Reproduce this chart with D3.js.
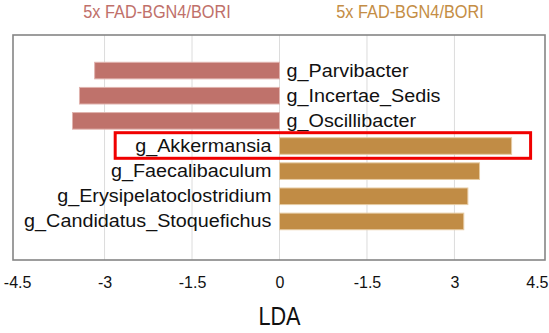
<!DOCTYPE html>
<html>
<head>
<meta charset="utf-8">
<script src="https://cdn.jsdelivr.net/npm/d3@7"></script>
<style>
  html, body { margin: 0; padding: 0; background: #fff; }
  svg { display: block; font-family: "Liberation Sans", Arial, sans-serif; }
</style>
</head>
<body>
<svg id="chart" width="549" height="333"></svg>
<script>
// ---- data ----
const categories = ["g_Parvibacter", "g_Incertae_Sedis", "g_Oscillibacter", "g_Akkermansia",
                    "g_Faecalibaculum", "g_Erysipelatoclostridium", "g_Candidatus_Stoquefichus"];
const ldaValues = [-3.17, -3.43, -3.55, 3.98, 3.43, 3.23, 3.16];
const groupTitles = ["5x FAD-BGN4/BORI", "5x FAD-BGN4/BORI"];
const tickValues = [-4.5, -3, -1.5, 0, 1.5, 3, 4.5];
const tickLabels = ["-4.5", "-3", "-1.5", "0", "-1.5", "3", "4.5"];
const highlighted = "g_Akkermansia";
const axisTitle = "LDA";

// ---- layout ----
const W = 549;
const svg = d3.select("#chart");
const frame = { left: 13, right: 545, top: 35, bottom: 260 };
const negColor = "#bf726b", posColor = "#c18c45";
const negStroke = "#e0b3ae", posStroke = "#e6cba3";

const x = d3.scaleLinear().domain([-4.57, 4.57]).range([frame.left, frame.right + 1]);
const y = d3.scaleBand().domain(categories).range([58, 234]).paddingInner(0.34).paddingOuter(0.17);

function stretch(sel, factor) {
  sel.each(function () {
    const len = this.getComputedTextLength();
    d3.select(this).attr("textLength", len * factor).attr("lengthAdjust", "spacingAndGlyphs");
  });
}

// gridlines
svg.append("g").selectAll("line")
  .data(tickValues.filter(v => Math.abs(v) < 4.5))
  .join("line")
  .attr("x1", d => x(d)).attr("x2", d => x(d))
  .attr("y1", frame.top).attr("y2", frame.bottom)
  .attr("stroke", "#dcdcdc").attr("stroke-width", 1);

// frame
svg.append("rect")
  .attr("x", frame.left).attr("y", frame.top)
  .attr("width", frame.right - frame.left).attr("height", frame.bottom - frame.top)
  .attr("fill", "none").attr("stroke", "#858585").attr("stroke-width", 1.6);

// bars
svg.append("g").selectAll("rect")
  .data(categories.map((c, i) => ({ c, v: ldaValues[i] })))
  .join("rect")
  .attr("x", d => Math.min(x(0), x(d.v)))
  .attr("y", d => y(d.c))
  .attr("width", d => Math.abs(x(d.v) - x(0)))
  .attr("height", y.bandwidth())
  .attr("fill", d => d.v < 0 ? negColor : posColor)
  .attr("stroke", d => d.v < 0 ? negStroke : posStroke)
  .attr("stroke-width", 1);

// bar labels
const labels = svg.append("g").selectAll("text")
  .data(categories.map((c, i) => ({ c, v: ldaValues[i] })))
  .join("text")
  .attr("x", d => d.v < 0 ? x(0) + 7 : x(0) - 8)
  .attr("y", d => y(d.c) + y.bandwidth() / 2 + 6)
  .attr("text-anchor", d => d.v < 0 ? "start" : "end")
  .attr("font-size", 17.5)
  .attr("fill", "#111")
  .text(d => d.c);
stretch(labels, 1.13);

// highlight box
const hiIdx = categories.indexOf(highlighted);
const hiNode = labels.nodes()[hiIdx];
const hiLeft = x(0) - 8 - hiNode.textLength.baseVal.value;
svg.append("rect")
  .attr("x", hiLeft - 20)
  .attr("y", y(highlighted) - 5)
  .attr("width", x(ldaValues[hiIdx]) + 19 - (hiLeft - 20))
  .attr("height", y.bandwidth() + 9)
  .attr("fill", "none").attr("stroke", "#f00000").attr("stroke-width", 3);

// group titles
const titles = svg.append("g").selectAll("text")
  .data(groupTitles)
  .join("text")
  .attr("x", (d, i) => i === 0 ? 157 : 410)
  .attr("y", 18)
  .attr("text-anchor", "middle")
  .attr("font-size", 18.5)
  .attr("fill", (d, i) => i === 0 ? "#c0706a" : "#c48d45")
  .text(d => d);
stretch(titles, 0.88);

// x axis
const axis = d3.axisBottom(x)
  .tickValues(tickValues)
  .tickFormat((d, i) => tickLabels[i])
  .tickSize(0).tickPadding(0);
const ax = svg.append("g").attr("transform", "translate(0,277)").call(axis);
ax.select(".domain").remove();
ax.selectAll("text")
  .attr("font-size", 16)
  .attr("font-family", "\"Liberation Sans\", Arial, sans-serif")
  .attr("fill", "#111");
stretch(ax.selectAll("text"), 1.0);
// keep the outermost labels inside the picture
ax.selectAll("text").each(function (d) {
  const t = d3.select(this);
  const len = this.getComputedTextLength();
  const cx = x(d);
  if (cx - len / 2 < 0) t.attr("text-anchor", "start").attr("x", -cx);
  if (cx + len / 2 > W - 1) t.attr("text-anchor", "end").attr("x", W - 1 - cx);
});

// axis title
const at = svg.append("text")
  .attr("x", x(0))
  .attr("y", 325)
  .attr("text-anchor", "middle")
  .attr("font-size", 25.5)
  .attr("fill", "#111")
  .text(axisTitle);
stretch(at, 0.85);
</script>
</body>
</html>
